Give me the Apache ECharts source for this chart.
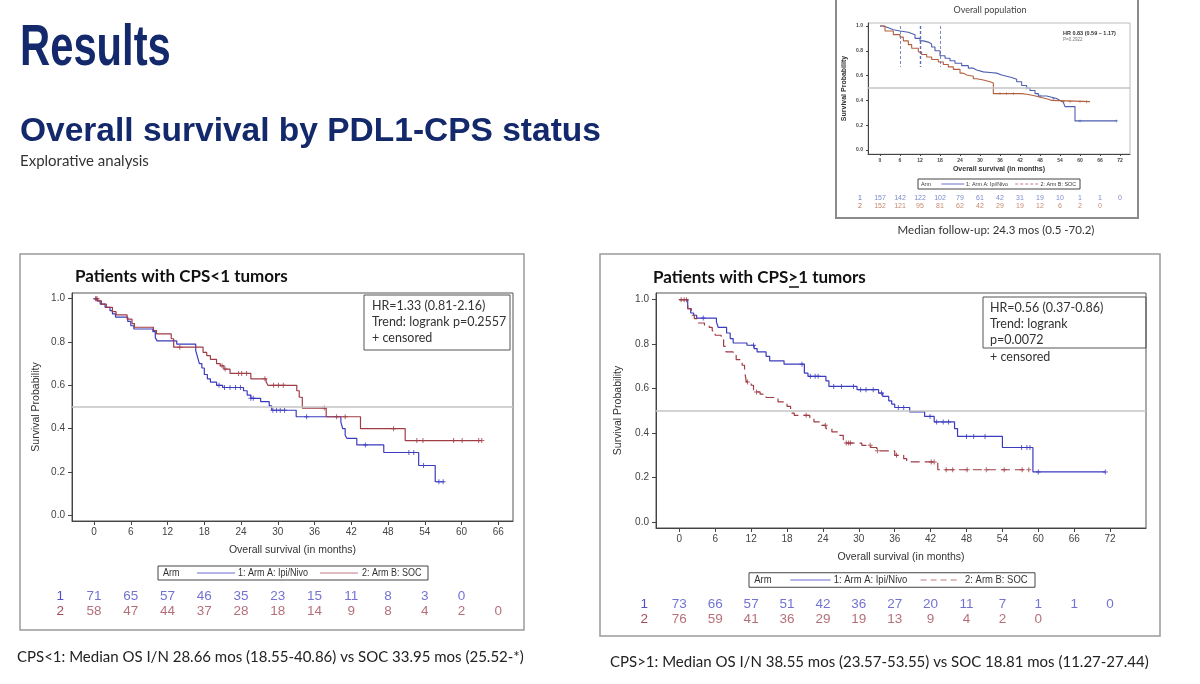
<!DOCTYPE html>
<html>
<head>
<meta charset="utf-8">
<title>Overall survival by PDL1-CPS status</title>
<script src="https://cdn.jsdelivr.net/npm/echarts@6/dist/echarts.min.js"></script>
<style>
html, body { margin: 0; padding: 0; background: #fff; }
#main { width: 1200px; height: 684px; }
</style>
</head>
<body>
<div id="main"></div>
<script>
// ---- values ----
const monthTicks = [0, 6, 12, 18, 24, 30, 36, 42, 48, 54, 60, 66, 72];
const probTicks = [0, 0.2, 0.4, 0.6, 0.8, 1.0];
const riskRows = ['1', '2'];

// CPS<1 : [month, survival] at every drop
const lowIpiNivo = [[0,1],[0.5,0.99],[1,0.975],[1.8,0.96],[2.6,0.945],[3,0.93],[3.5,0.915],[5.5,0.895],[6,0.875],[6.5,0.86],
  [9.6,0.848],[10,0.82],[10.3,0.805],[13.5,0.79],[16.6,0.76],[16.9,0.73],[17.2,0.7],[17.6,0.68],[18,0.65],[18.5,0.63],
  [19,0.615],[20,0.6],[21,0.59],[24.4,0.575],[25,0.555],[25.6,0.54],[27.2,0.525],[28.6,0.505],[29,0.485],[33,0.455],
  [40.3,0.43],[40.6,0.4],[41,0.37],[41.3,0.355],[42.9,0.325],[47.3,0.29],[53,0.23],[55.7,0.155],[57.1,0.155]];
const lowIpiNivoCensor = [0.3, 20.4, 21.3, 22.2, 23.1, 23.9, 25.6, 26, 29.2, 29.8, 30.4, 31.1, 34.7, 44.3, 51.4, 52.2, 53.8, 56.3, 57];
const lowSoc = [[0,1],[0.6,0.99],[1.2,0.975],[2,0.96],[3,0.94],[3.6,0.925],[5.4,0.905],[6.2,0.885],[6.6,0.868],[9.7,0.853],
  [10.2,0.837],[12.6,0.815],[13,0.776],[17.8,0.752],[18.4,0.737],[19,0.72],[20,0.7],[20.6,0.69],[21.2,0.675],[22.2,0.655],
  [25.6,0.63],[28.1,0.615],[28.4,0.6],[33.1,0.575],[33.5,0.545],[34,0.495],[37.9,0.455],[43.5,0.4],[50.8,0.345],[63.3,0.345]];
const lowSocCensor = [0.3, 0.5, 14, 20.9, 21.4, 23.6, 24.1, 24.9, 27.9, 29.3, 30.1, 30.9, 37.6, 39.6, 41, 48.9, 52.7, 53.7, 58.7, 60.1, 62.8, 63.3];
const lowRiskIpiNivo = [71, 65, 57, 46, 35, 23, 15, 11, 8, 3, 0];
const lowRiskSoc = [58, 47, 44, 37, 28, 18, 14, 9, 8, 4, 2, 0];

// CPS>=1
const highIpiNivo = [[0,1],[1.4,0.96],[1.9,0.94],[2.4,0.93],[2.9,0.917],[6.2,0.9],[6.5,0.875],[7.9,0.85],[8.5,0.825],[9,0.805],
  [11.3,0.795],[12.5,0.78],[13,0.765],[14.5,0.745],[15.1,0.725],[17.5,0.71],[20.9,0.67],[21.5,0.655],[24.5,0.635],[25,0.61],
  [29.7,0.595],[33.3,0.58],[34,0.565],[35,0.545],[35.5,0.53],[36,0.515],[38.5,0.495],[41,0.475],[42.6,0.45],[46,0.42],
  [46.5,0.385],[54,0.335],[59.1,0.225],[71.2,0.225]];
const highIpiNivoCensor = [4, 12.4, 20.5, 21.9, 22.7, 23.2, 25.8, 27.1, 29.1, 30.3, 31.2, 32.4, 33.8, 36.6, 37.5, 41.9, 43, 44.1, 45,
  48, 49.2, 51.1, 57.2, 58.1, 58.6, 60, 71.2];
const highSoc = [[0,1],[1.4,0.96],[2,0.93],[2.5,0.915],[3,0.895],[4.2,0.885],[5,0.875],[5.5,0.86],[6,0.84],[7,0.82],[7.4,0.79],
  [7.8,0.765],[9,0.75],[9.5,0.73],[10.5,0.705],[10.9,0.68],[11.2,0.63],[12,0.615],[12.4,0.585],[13.5,0.575],[14.5,0.56],
  [16.5,0.54],[18,0.52],[18.6,0.49],[19.2,0.48],[21.8,0.465],[22.5,0.45],[23.5,0.435],[24.5,0.42],[25.5,0.405],[26.5,0.39],
  [27.4,0.37],[27.9,0.355],[30.5,0.345],[32,0.335],[33,0.32],[36,0.3],[37.5,0.285],[38,0.27],[43.2,0.235],[58.4,0.235]];
const highSocCensor = [0.3, 0.8, 1.2, 11.4, 12.9, 21.2, 24.4, 27.9, 28.3, 28.6, 31.9, 33.1, 36.3, 42.1, 42.6, 44.6, 45.7, 48.1,
  51.3, 54.3, 57.3, 58.4];
const highRiskIpiNivo = [73, 66, 57, 51, 42, 36, 27, 20, 11, 7, 1, 1, 0];
const highRiskSoc = [76, 59, 41, 36, 29, 19, 13, 9, 4, 2, 0];

// overall population (inset)
const allIpiNivo = [[0,1],[1,0.985],[2.5,0.97],[4,0.96],[6,0.95],[8.5,0.94],[9.5,0.93],[10.5,0.9],[12,0.88],[13,0.87],[14.5,0.855],
  [15.5,0.83],[16.5,0.8],[18,0.76],[19.5,0.74],[21,0.72],[22.5,0.7],[24.5,0.68],[26.5,0.66],[28,0.645],[29,0.63],[31,0.625],
  [33,0.62],[35,0.605],[36.5,0.595],[38,0.585],[39.5,0.57],[41,0.55],[42.5,0.52],[44,0.5],[45,0.48],[46.5,0.455],[47.5,0.435],
  [50,0.425],[51.5,0.415],[53,0.4],[54,0.385],[55,0.37],[55.5,0.35],[58.5,0.235],[71,0.235]];
const allIpiNivoCensor = [44, 48, 52, 60, 71];
const allSoc = [[0,1],[1.5,0.96],[4,0.93],[6,0.91],[7,0.88],[8.5,0.85],[9.5,0.82],[11.5,0.79],[12.5,0.77],[14,0.75],[15.5,0.73],
  [17.5,0.71],[19,0.69],[20.5,0.67],[22,0.65],[24,0.62],[25,0.605],[26,0.595],[28,0.575],[29,0.565],[31,0.55],[33,0.54],
  [34,0.455],[42.5,0.45],[44,0.44],[46,0.43],[47.5,0.42],[49,0.41],[50.5,0.4],[51.5,0.39],[63,0.39]];
const allSocCensor = [36, 38, 40, 55, 57, 60, 62];
const allRiskIpiNivo = [157, 142, 122, 102, 79, 61, 42, 31, 19, 10, 1, 1, 0];
const allRiskSoc = [152, 121, 95, 81, 62, 42, 29, 19, 12, 6, 2, 0];
const allGuideMonths = [6, 12, 18];

// ---- styling ----
const NAVY = '#13296b';
const BLUE = '#3b3bbf';
const RED = '#a03c46';
const BLUE_TXT = '#4f4fc6';
const RED_TXT = '#a24b57';
const SLIDE = "'Liberation Sans', Arial, sans-serif";
const BODY = "Lato, 'Noto Sans', sans-serif";
const SAS = "'Liberation Sans', Arial, sans-serif";
const PLUS = 'path://M4,0h2v10h-2z M0,4h10v2h-10z';

const grids = [], xAxes = [], yAxes = [], series = [];

// survival value of a step curve at time t
function survAt(curve, t) {
  let s = curve[0][1];
  curve.forEach(p => { if (p[0] <= t) s = p[1]; });
  return s;
}

function addPanel(c) {
  const gi = grids.length;
  grids.push({ left: c.left, top: c.top, width: c.width, height: c.height, show: true,
    borderColor: c.frame, borderWidth: 1, backgroundColor: 'transparent' });
  xAxes.push({
    type: 'value', gridIndex: gi, min: c.xMin, max: c.xMax,
    name: c.xName, nameLocation: 'middle', nameGap: c.xNameGap, nameTextStyle: c.nameStyle,
    axisLine: { onZero: false, lineStyle: { color: '#444', width: 1 } },
    axisTick: { customValues: c.xTicks, length: c.tickLen, lineStyle: { color: '#444' } },
    axisLabel: { customValues: c.xTicks, fontSize: c.tickFont, fontWeight: c.tickWeight || 'normal',
      color: '#444', fontFamily: SAS, margin: c.xMargin },
    splitLine: { show: false }
  });
  yAxes.push({
    type: 'value', gridIndex: gi, min: c.yMin, max: c.yMax,
    name: 'Survival Probability', nameLocation: 'middle', nameGap: c.yNameGap, nameRotate: 90, nameTextStyle: c.nameStyle,
    axisLine: { show: true, onZero: false, lineStyle: { color: '#444', width: 1 } },
    axisTick: { customValues: probTicks, length: c.tickLen, lineStyle: { color: '#444' } },
    axisLabel: { customValues: probTicks, formatter: v => v.toFixed(1), fontSize: c.tickFont,
      fontWeight: c.tickWeight || 'normal', color: '#444', fontFamily: SAS, margin: c.yMargin },
    splitLine: { show: false }
  });
  c.arms.forEach((arm, k) => {
    const line = {
      type: 'line', xAxisIndex: gi, yAxisIndex: gi, data: arm.curve, step: 'end', symbol: 'none',
      lineStyle: { color: arm.color, width: c.lineWidth, type: arm.dash || 'solid' }, z: 3
    };
    if (k === 0) {
      line.markLine = { silent: true, symbol: 'none', label: { show: false },
        lineStyle: { color: '#c4c4c4', type: 'solid', width: 1.5 }, data: [{ yAxis: 0.5 }] };
      if (c.guides) {
        line.markLine.data = line.markLine.data.concat(c.guides.map((m, i) => [
          { coord: [m, 1.0], lineStyle: { color: '#5a6bb8', type: [3, 2], width: i === 1 ? 1.4 : 0.8 } },
          { coord: [m, 0.67] }
        ]));
      }
    }
    series.push(line);
    series.push({
      type: 'scatter', xAxisIndex: gi, yAxisIndex: gi, symbol: PLUS, symbolSize: c.plusSize,
      data: arm.censors.map(t => [t, survAt(arm.curve, t)]), itemStyle: { color: arm.color }, z: 4
    });
  });
  // numbers at risk, on the same month scale
  const ri = grids.length;
  grids.push({ left: c.left, width: c.width, top: c.riskTop, height: c.riskHeight });
  xAxes.push({ type: 'value', gridIndex: ri, min: c.xMin, max: c.xMax, show: false });
  yAxes.push({
    type: 'category', gridIndex: ri, data: riskRows, inverse: true,
    axisLine: { show: false }, axisTick: { show: false }, splitLine: { show: false },
    axisLabel: { interval: 0, color: (v, i) => c.arms[i].riskColor, fontSize: c.riskFont, fontFamily: SLIDE, margin: c.riskMargin }
  });
  c.arms.forEach((arm, k) => {
    series.push({
      type: 'scatter', xAxisIndex: ri, yAxisIndex: ri, symbolSize: 1, itemStyle: { color: 'rgba(0,0,0,0)' },
      data: arm.risk.map((n, i) => [monthTicks[i], k, n]),
      label: { show: true, position: 'inside', formatter: p => String(p.value[2]),
        color: arm.riskColor, fontSize: c.riskFont, fontFamily: SLIDE }
    });
  });
}

addPanel({
  left: 72, top: 293, width: 441, height: 228, frame: '#555',
  xMin: -3.6, xMax: 68.4, yMin: -0.026, yMax: 1.026, xTicks: monthTicks.slice(0, 12),
  xName: 'Overall survival (in months)', xNameGap: 24, yNameGap: 30,
  nameStyle: { fontSize: 10.5, color: '#333', fontFamily: SAS },
  tickLen: 4, tickFont: 10, xMargin: 6, yMargin: 7, lineWidth: 1.2, plusSize: 5,
  riskTop: 589, riskHeight: 30, riskFont: 13.5, riskMargin: 8,
  arms: [
    { curve: lowIpiNivo, censors: lowIpiNivoCensor, color: BLUE, risk: lowRiskIpiNivo, riskColor: BLUE_TXT },
    { curve: lowSoc, censors: lowSocCensor, color: RED, risk: lowRiskSoc, riskColor: RED_TXT }
  ]
});

addPanel({
  left: 656, top: 293, width: 490, height: 235, frame: '#555',
  xMin: -3.9, xMax: 78.0, yMin: -0.027, yMax: 1.03, xTicks: monthTicks,
  xName: 'Overall survival (in months)', xNameGap: 24, yNameGap: 32,
  nameStyle: { fontSize: 10.5, color: '#333', fontFamily: SAS },
  tickLen: 4, tickFont: 10, xMargin: 6, yMargin: 7, lineWidth: 1.2, plusSize: 5,
  riskTop: 597, riskHeight: 30, riskFont: 13.5, riskMargin: 8,
  arms: [
    { curve: highIpiNivo, censors: highIpiNivoCensor, color: BLUE, risk: highRiskIpiNivo, riskColor: BLUE_TXT },
    { curve: highSoc, censors: highSocCensor, color: RED, dash: [9, 5], risk: highRiskSoc, riskColor: RED_TXT }
  ]
});

addPanel({
  left: 868, top: 23, width: 262, height: 131, frame: '#bbb',
  xMin: -3.6, xMax: 75, yMin: -0.032, yMax: 1.024, xTicks: monthTicks,
  xName: 'Overall survival (in months)', xNameGap: 12, yNameGap: 20,
  nameStyle: { fontSize: 7, color: '#333', fontWeight: 'bold', fontFamily: SAS },
  tickLen: 2, tickFont: 5, tickWeight: 'bold', xMargin: 4, yMargin: 5, lineWidth: 1.1, plusSize: 3,
  riskTop: 194, riskHeight: 16, riskFont: 7, riskMargin: 6, guides: allGuideMonths,
  arms: [
    { curve: allIpiNivo, censors: allIpiNivoCensor, color: '#4d5fb0', risk: allRiskIpiNivo, riskColor: '#5a6cc0' },
    { curve: allSoc, censors: allSocCensor, color: '#b4603e', risk: allRiskSoc, riskColor: '#b86a4a' }
  ]
});

// ---- slide text and boxes ----
function txt(x, y, s, font, fill, align, extra) {
  return Object.assign({ type: 'text', x: x, y: y, silent: true,
    style: { text: s, font: font, fill: fill, textAlign: align || 'left', textVerticalAlign: 'middle' } }, extra || {});
}
function box(x, y, w, h, stroke, lw) {
  return { type: 'rect', silent: true, shape: { x: x, y: y, width: w, height: h },
    style: { fill: 'none', stroke: stroke, lineWidth: lw || 1 } };
}
function seg(x1, y1, x2, y2, color, dash, lw) {
  return { type: 'line', silent: true, shape: { x1: x1, y1: y1, x2: x2, y2: y2 },
    style: { stroke: color, lineWidth: lw || 1, lineDash: dash || null } };
}
// "Arm" key box drawn under each plot (laid out on a 270px template)
function armLegend(x, y, w, socDash, fs) {
  const h = fs + 4;
  const f = fs + 'px ' + SAS;
  const u = w / 270;
  const narrow = { scaleX: 0.9 };
  return [
    box(x, y - h / 2, w, h, '#444', 1),
    txt(x + 5 * u, y, 'Arm', f, '#333', 'left', narrow),
    seg(x + 39 * u, y, x + 77 * u, y, '#6a6ad0', null, 1),
    txt(x + 80 * u, y, '1: Arm A: Ipi/Nivo', f, '#333', 'left', narrow),
    seg(x + 162 * u, y, x + 200 * u, y, '#c07a82', socDash, 1),
    txt(x + 204 * u, y, '2: Arm B: SOC', f, '#333', 'left', narrow)
  ];
}

const graphics = [
  txt(20, 49, 'Results', 'bold 58px ' + SLIDE, NAVY, 'left', { scaleX: 0.72 }),
  txt(20, 132, 'Overall survival by PDL1-CPS status', 'bold 33.5px ' + SLIDE, NAVY),
  txt(20, 161, 'Explorative analysis', '15px ' + BODY, '#333'),

  // inset: overall population
  box(836, -2, 302, 220, '#8a8a8a', 2),
  txt(990, 10, 'Overall population', '9px ' + BODY, '#444', 'center'),
  txt(1063, 33, 'HR 0.83 (0.59 \u2013 1.17)', 'bold 5.5px ' + SAS, '#333'),
  txt(1063, 40, 'P=0.2922', '4.5px ' + SAS, '#777'),
  ...armLegend(918, 184, 162, [3, 2], 6),
  txt(996, 230, 'Median follow-up: 24.3 mos (0.5 -70.2)', '11.5px ' + BODY, '#333', 'center'),

  // left panel
  box(20, 254, 504, 376, '#9a9a9a', 1.5),
  txt(75, 277, 'Patients with CPS<1 tumors', 'bold 17px ' + BODY, '#111'),
  box(364, 295, 146, 55, '#555', 1),
  txt(372, 306, 'HR=1.33 (0.81-2.16)', '12.5px ' + BODY, '#333'),
  txt(372, 322, 'Trend: logrank p=0.2557', '12.5px ' + BODY, '#333'),
  txt(372, 338, '+ censored', '12.5px ' + BODY, '#333'),
  ...armLegend(158, 573, 270, null, 10),
  txt(17, 657, 'CPS<1: Median OS I/N 28.66 mos (18.55-40.86) vs SOC 33.95 mos (25.52-*)', '15px ' + BODY, '#222'),

  // right panel
  box(600, 254, 560, 382, '#9a9a9a', 1.5),
  txt(653, 278, 'Patients with CPS>1 tumors', 'bold 17px ' + BODY, '#111'),
  seg(789, 287, 799, 287, '#111', null, 1.5),
  box(983, 297, 163, 51, '#555', 1),
  txt(990, 308, 'HR=0.56 (0.37-0.86)', '12.5px ' + BODY, '#333'),
  txt(990, 324, 'Trend: logrank', '12.5px ' + BODY, '#333'),
  txt(990, 340, 'p=0.0072', '12.5px ' + BODY, '#333'),
  txt(990, 357, '+ censored', '12.5px ' + BODY, '#333'),
  ...armLegend(749, 580, 286, [6, 4], 10.5),
  txt(610, 662, 'CPS>1: Median OS I/N 38.55 mos (23.57-53.55) vs SOC 18.81 mos (11.27-27.44)', '15px ' + BODY, '#222')
];

const chart = echarts.init(document.getElementById('main'));
chart.setOption({
  animation: false,
  backgroundColor: '#fff',
  grid: grids,
  xAxis: xAxes,
  yAxis: yAxes,
  series: series,
  graphic: graphics
});
</script>
</body>
</html>
